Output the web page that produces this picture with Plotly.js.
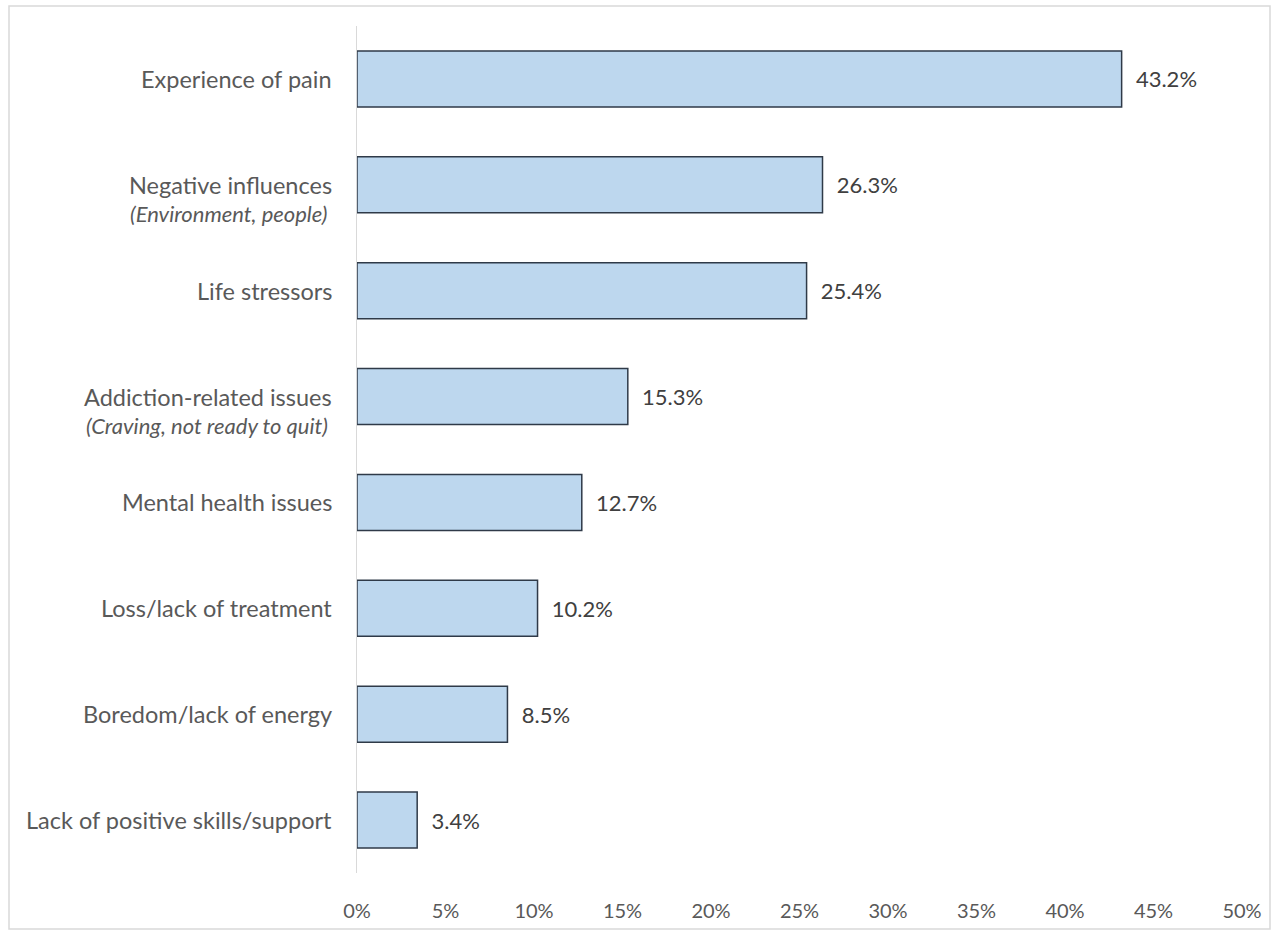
<!DOCTYPE html>
<html>
<head>
<meta charset="utf-8">
<script src="https://cdn.plot.ly/plotly-3.0.1.min.js"></script>
<style>html,body{margin:0;padding:0;background:#fff;}</style>
</head>
<body>
<div id="chart" style="width:1272px;height:932px;"></div>
<script>
const categories = [
  "Experience of pain",
  "Negative influences",
  "Life stressors",
  "Addiction-related issues",
  "Mental health issues",
  "Loss/lack of treatment",
  "Boredom/lack of energy",
  "Lack of positive skills/support"
];
const subLabels = ["", "(Environment, people)", "", "(Craving, not ready to quit)", "", "", "", ""];
const values = [43.2, 26.3, 25.4, 15.3, 12.7, 10.2, 8.5, 3.4];
const xTickVals = [0, 5, 10, 15, 20, 25, 30, 35, 40, 45, 50];

const FONT = "Lato, 'Open Sans', sans-serif";
const GRAY = "#595959";

const trace = {
  type: "bar",
  orientation: "h",
  y: categories,
  x: values,
  text: values.map(v => "  " + v.toFixed(1) + "%"),
  textposition: "outside",
  cliponaxis: false,
  textfont: {family: FONT, size: 22, color: "#404040"},
  marker: {color: "#BDD7EE", line: {color: "#2f3a48", width: 1.5}},
  hoverinfo: "none"
};

const annotations = [];
categories.forEach((c, i) => {
  annotations.push({
    xref: "paper", yref: "y", x: -23/885, y: c, xanchor: "right", yanchor: "middle",
    text: c, showarrow: false, font: {family: FONT, size: 23.5, color: GRAY}
  });
  if (subLabels[i]) {
    annotations.push({
      xref: "paper", yref: "y", x: -27/885, y: c, xanchor: "right", yanchor: "middle",
      yshift: -29, text: "<i>" + subLabels[i] + "</i>", showarrow: false,
      font: {family: FONT, size: 22, color: GRAY}
    });
  }
});

const layout = {
  width: 1272, height: 932,
  margin: {l: 357, r: 30, t: 26, b: 59},
  paper_bgcolor: "#fff", plot_bgcolor: "#fff",
  showlegend: false,
  bargap: 0.47,
  font: {family: FONT, color: GRAY},
  xaxis: {
    range: [0, 50], tickvals: xTickVals, ticktext: xTickVals.map(v => v + "%"),
    showgrid: false, zeroline: false, showline: false,
    ticks: "outside", ticklen: 20, tickcolor: "rgba(0,0,0,0)",
    tickfont: {family: FONT, size: 20, color: GRAY}, fixedrange: true
  },
  yaxis: {
    type: "category", autorange: "reversed", showticklabels: false,
    showgrid: false, zeroline: false, showline: true, linecolor: "#d9d9d9", linewidth: 1,
    ticks: "", fixedrange: true
  },
  annotations: annotations,
  shapes: [{
    type: "rect", xref: "paper", yref: "paper",
    x0: -348/885, x1: 1270/885 - 357/885, y0: -56/847, y1: 867/847,
    line: {color: "#d9d9d9", width: 1.5}, fillcolor: "rgba(0,0,0,0)", layer: "below"
  }]
};

Plotly.newPlot("chart", [trace], layout, {displayModeBar: false, staticPlot: true});
</script>
</body>
</html>
